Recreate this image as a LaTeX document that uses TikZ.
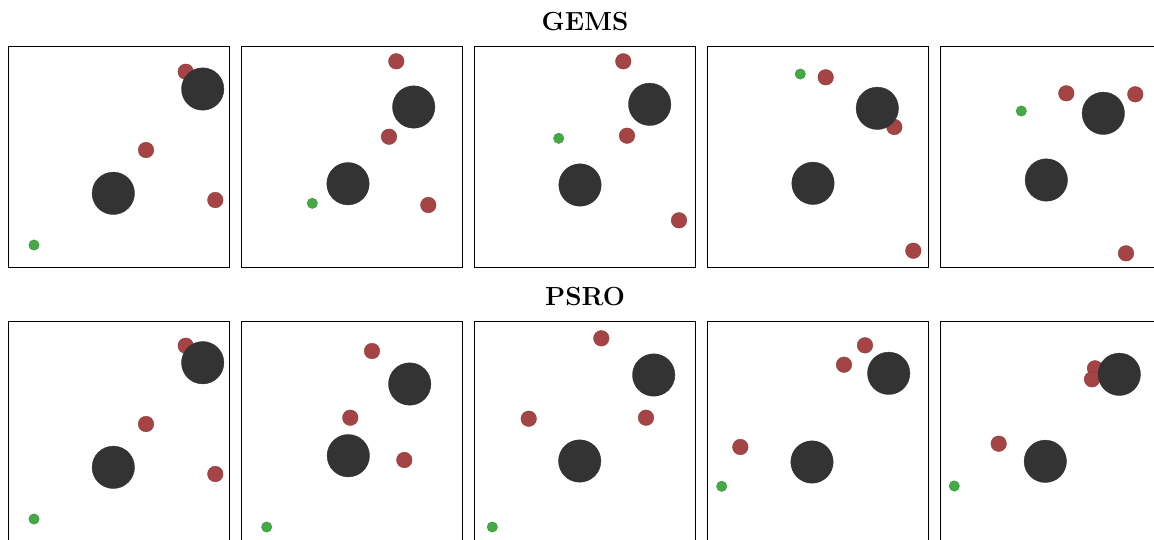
\documentclass[tikz,border=0pt]{standalone}
\definecolor{agentred}{HTML}{A54444}
\definecolor{bigdark}{HTML}{333333}
\definecolor{goalgreen}{HTML}{44AA44}
\tikzset{
  panelbox/.style={draw=black, line width=0.5pt},
  redball/.style={fill=agentred, draw=agentred!80!black, line width=0.2pt},
  bigball/.style={fill=bigdark, draw=bigdark!90!black, line width=0.2pt},
  greenball/.style={fill=goalgreen, draw=goalgreen!80!black, line width=0.2pt},
  rowtitle/.style={font=\fontsize{14.9}{17}\selectfont\bfseries, anchor=base, inner sep=0pt}
}
\newcommand{\rb}[2]{\path[redball] (#1,#2) circle[radius=7.8];}
\newcommand{\bb}[2]{\path[bigball] (#1,#2) circle[radius=21.2];}
\newcommand{\gb}[2]{\path[greenball] (#1,#2) circle[radius=5.2];}
\begin{document}
\begin{tikzpicture}[x=0.02cm,y=-0.02cm]
\useasboundingbox (0,0) rectangle (1154,539);
\clip (0,0) rectangle (1154,539);
\fill[white] (0,0) rectangle (1154,539);
% titles
\node[rowtitle] (gems) at (585,30.5) {GEMS};
\node[rowtitle] (psro) at (585,305.5) {PSRO};
% panel boxes
\foreach \px in {8.5,241.3,474,707,940}{
  \draw[panelbox] (\px,46.5) rectangle ++(221,221);
  \draw[panelbox] (\px,321) rectangle ++(221,221);
}
% ---- GEMS row ----
% panel 1
\rb{185.7}{71.7} \rb{146}{150} \rb{215.3}{200}
\bb{202.7}{89} \bb{113.3}{193.3}
\gb{34}{245}
% panel 2
\rb{396.3}{61.3} \rb{389}{136.7} \rb{428.3}{205}
\bb{413.7}{107} \bb{348}{183.7}
\gb{312.3}{203.3}
% panel 3
\rb{623.3}{61.3} \rb{627}{135.7} \rb{679}{220.3}
\bb{649.7}{104.3} \bb{580}{185}
\gb{558.7}{138.3}
% panel 4
\rb{825.7}{77.3} \rb{894.3}{127} \rb{913.3}{250.7}
\bb{877.3}{108.3} \bb{813}{183.3}
\gb{800.3}{74}
% panel 5
\rb{1066.3}{93.3} \rb{1135.3}{94.3} \rb{1126}{253.3}
\bb{1103.3}{113.3} \bb{1046.3}{180}
\gb{1021.3}{111}
% ---- PSRO row ----
% panel 1
\rb{185.7}{345.7} \rb{146}{424} \rb{215.3}{474}
\bb{202.7}{362.7} \bb{113.3}{467.3}
\gb{34}{519}
% panel 2
\rb{372}{351} \rb{350.3}{417.7} \rb{404.3}{460}
\bb{409.7}{384} \bb{348.3}{455.7}
\gb{266.7}{527}
% panel 3
\rb{601.3}{338.3} \rb{528.7}{418.7} \rb{646}{417.7}
\bb{653.7}{375} \bb{579.7}{461}
\gb{492.3}{527}
% panel 4
\rb{865}{345.3} \rb{844}{364.7} \rb{740.3}{447}
\bb{888.7}{373.3} \bb{812}{462}
\gb{721.7}{486.3}
% panel 5
\rb{1095}{368.3} \rb{1092}{379.3} \rb{998.7}{443.7}
\bb{1119.3}{374.3} \bb{1045.3}{461.3}
\gb{954.3}{486}
\end{tikzpicture}
\end{document}
